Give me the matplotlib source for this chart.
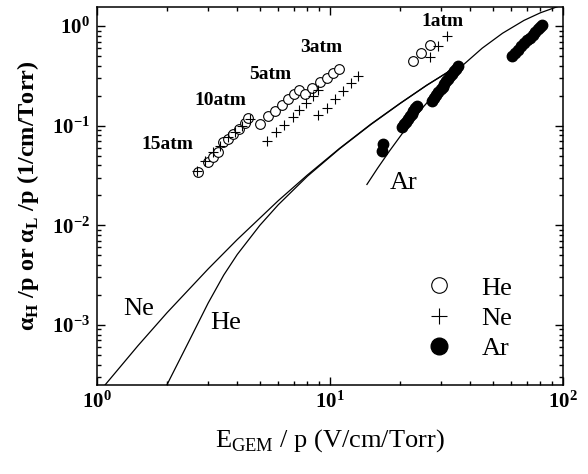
import matplotlib
matplotlib.use("Agg")
import matplotlib.pyplot as plt
from matplotlib.ticker import LogLocator, NullFormatter

plt.rcParams["font.family"] = ["Liberation Serif", "DejaVu Serif"]
plt.rcParams["mathtext.fontset"] = "custom"
plt.rcParams["mathtext.rm"] = "Liberation Serif"
plt.rcParams["mathtext.bf"] = "Liberation Serif:bold"

# calculated curves (E/p, alpha/p)
ne_curve_x = [1.0, 1.5, 2.0, 3.0, 4.0, 6.0, 8.0, 11.0, 15.0, 20.0, 26.0, 33.7]
ne_curve_y = [2.0e-4, 6.2e-4, 1.33e-3, 3.65e-3, 7.2e-3, 0.0177, 0.032, 0.0593,
              0.104, 0.168, 0.255, 0.372]
he_curve_x = [1.9, 2.0, 2.5, 3.0, 3.5, 4.0, 5.0, 6.0, 8.0, 11.0, 15.0, 20.0,
              26.0, 33.7]
he_curve_y = [2.0e-4, 2.53e-4, 7.1e-4, 1.66e-3, 3.17e-3, 5.1e-3, 0.0100, 0.0161,
              0.0311, 0.0587, 0.103, 0.167, 0.254, 0.371]
ar_curve_x = [14.4, 16.0, 18.0, 21.0, 25.0, 30.0, 36.0, 45.0, 55.0, 68.0, 80.0, 95.0]
ar_curve_y = [0.0257, 0.0374, 0.0557, 0.0912, 0.152, 0.247, 0.379, 0.600, 0.847,
              1.14, 1.36, 1.57]

# measured He (15, 10, 5, 3, 1 atm)
he_x = [2.71, 2.99, 3.15, 3.3, 3.47, 3.65, 3.85, 4.05, 4.3, 4.45,
        5.01, 5.42, 5.81, 6.22, 6.60, 7.00, 7.36,
        7.81, 8.37, 9.06, 9.71, 10.3, 10.9,
        22.7, 24.6, 26.9]
he_y = [0.0341, 0.0430, 0.048, 0.054, 0.0684, 0.074, 0.082, 0.093, 0.107, 0.119,
        0.104, 0.125, 0.140, 0.161, 0.185, 0.208, 0.229,
        0.208, 0.239, 0.275, 0.302, 0.339, 0.372,
        0.448, 0.538, 0.648]

# measured Ne
ne_x = [2.69, 2.91, 3.15, 3.37, 3.65, 3.91, 4.19, 4.54,
        5.37, 5.86, 6.35, 6.94, 7.36, 7.89, 8.45, 8.88,
        8.88, 9.71, 10.5, 11.4, 12.3, 13.2,
        26.9, 29.1, 31.8]
ne_y = [0.0349, 0.044, 0.054, 0.062, 0.077, 0.086, 0.099, 0.117,
        0.070, 0.086, 0.101, 0.122, 0.144, 0.169, 0.199, 0.229,
        0.128, 0.150, 0.185, 0.223, 0.269, 0.316,
        0.491, 0.634, 0.80]

# measured Ar
ar_x = [16.7, 16.9,
        20.4, 20.8, 21.2, 21.6, 22.0, 22.4, 22.8, 23.2, 23.6,
        27.4, 28.0, 28.6, 29.2, 29.8, 30.4, 31.0, 31.6, 32.2, 32.8, 33.4, 34.0,
        34.7, 35.4,
        60.4, 62.0, 64.0, 66.0, 68.0, 70.0, 72.0, 74.0, 76.0, 78.0, 80.0, 81.3]
ar_y = [0.0555, 0.065,
        0.097, 0.104, 0.110, 0.117, 0.125, 0.132, 0.141, 0.149, 0.158,
        0.177, 0.189, 0.202, 0.216, 0.231, 0.247, 0.262, 0.279, 0.296, 0.314,
        0.333, 0.350, 0.373, 0.398,
        0.502, 0.535, 0.577, 0.624, 0.671, 0.718, 0.767, 0.821, 0.877, 0.932,
        0.99, 1.03]

pressure_labels = ["15atm", "10atm", "5atm", "3atm", "1atm"]
pressure_x = [2.0, 3.40, 5.53, 9.15, 30.5]
pressure_y = [0.065, 0.177, 0.324, 0.605, 1.10]

fig = plt.figure(figsize=(5.88, 4.74), dpi=100)
ax = fig.add_axes([0.165, 0.188, 0.7925, 0.797])

ax.plot(ne_curve_x, ne_curve_y, color="black", lw=0.9)
ax.plot(he_curve_x, he_curve_y, color="black", lw=0.9)
ax.plot(ar_curve_x, ar_curve_y, color="black", lw=0.9)

ax.plot(he_x, he_y, "o", mfc="white", mec="black", ms=7, mew=0.8, label="He")
ax.plot(ne_x, ne_y, "+", color="black", ms=7, mew=0.8, label="Ne")
ax.plot(ar_x, ar_y, "o", color="black", ms=7.5, label="Ar")

ax.set_xscale("log")
ax.set_yscale("log")
ax.set_xlim(1, 100)
ax.set_ylim(2.5e-4, 1.55)

for lab, x, y in zip(pressure_labels, pressure_x, pressure_y):
    ax.text(x, y, lab, fontsize=14, fontweight="bold", ha="center", va="center")

ax.text(1.51, 1.46e-3, "Ne", fontsize=19, ha="center", va="center")
ax.text(3.58, 1.05e-3, "He", fontsize=19, ha="center", va="center")
ax.text(20.6, 0.0264, "Ar", fontsize=19, ha="center", va="center")

ax.xaxis.set_major_locator(LogLocator(base=10, numticks=10))
ax.xaxis.set_minor_locator(LogLocator(base=10, subs=range(2, 10), numticks=10))
ax.yaxis.set_major_locator(LogLocator(base=10, numticks=10))
ax.yaxis.set_minor_locator(LogLocator(base=10, subs=range(2, 10), numticks=10))
ax.xaxis.set_minor_formatter(NullFormatter())
ax.yaxis.set_minor_formatter(NullFormatter())

ax.tick_params(which="both", direction="in", top=True, right=True, width=1)
ax.tick_params(which="major", length=5.5, labelsize=15, pad=5)
ax.tick_params(which="minor", length=3)
for lbl in ax.get_xticklabels() + ax.get_yticklabels():
    lbl.set_fontweight("bold")
for sp in ax.spines.values():
    sp.set_linewidth(1.1)

ax.set_xlabel(r"E$_\mathdefault{GEM}$ / p (V/cm/Torr)", fontsize=19, labelpad=10)
ax.set_ylabel(r"α$_\mathbf{H}$ /p or α$_\mathbf{L}$ /p (1/cm/Torr)",
              fontsize=17.5, fontweight="bold", labelpad=8)

ax.legend(loc="center left", bbox_to_anchor=(0.706, 0.177), frameon=False,
          fontsize=19, handlelength=1.0, handletextpad=1.1, labelspacing=0.25,
          markerscale=1.6, borderpad=0, borderaxespad=0)

fig.savefig("out.png", dpi=100)
